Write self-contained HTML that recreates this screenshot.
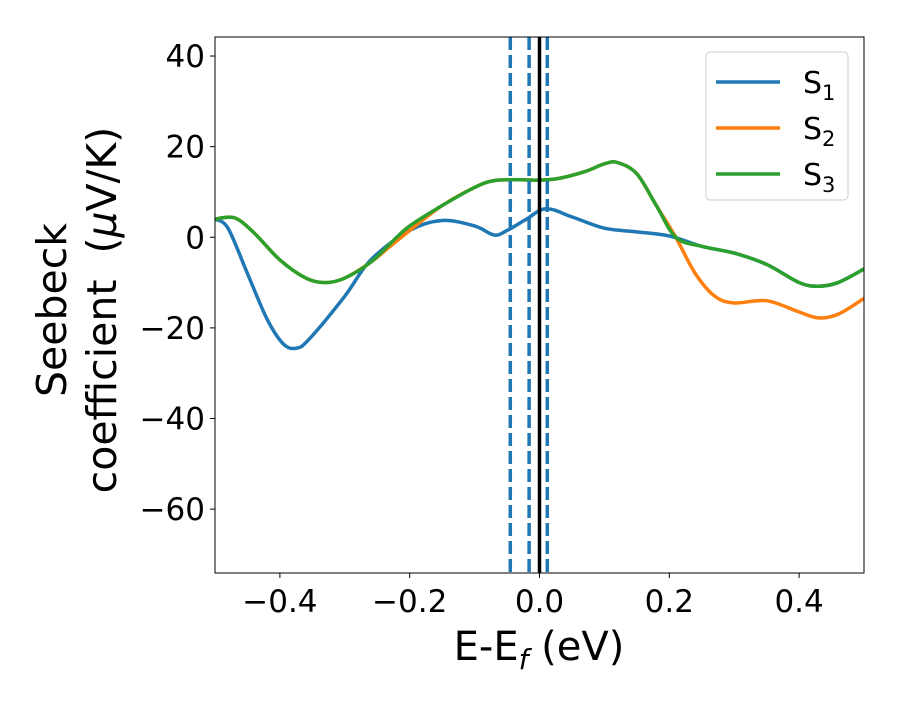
<!DOCTYPE html>
<html><head><meta charset="utf-8"><style>
body{margin:0;background:#fff;}
svg text{font-family:"DejaVu Sans","Liberation Sans",sans-serif;fill:#000;}
</style></head><body>
<svg id="chart" width="900" height="700" xmlns="http://www.w3.org/2000/svg"></svg>
<script>
const xS1=[-0.5,-0.48,-0.45,-0.42,-0.395,-0.375,-0.355,-0.3,-0.26,-0.2,-0.15,-0.1,-0.07,-0.05,-0.02,0.01,0.05,0.1,0.15,0.2,0.25,0.3,0.35,0.4,0.43,0.46,0.5];
const yS1=[4,2,-8,-18,-23.5,-24.5,-22.5,-13,-5,1.5,3.7,2.5,0.5,1.5,4,6.3,4.5,2,1.2,0.3,-2,-3.5,-6,-10,-10.8,-10,-7];
const xS2=[-0.5,-0.47,-0.44,-0.4,-0.36,-0.33,-0.3,-0.26,-0.23,-0.2,-0.15,-0.1,-0.07,-0.03,0,0.03,0.07,0.1,0.12,0.15,0.18,0.21,0.24,0.27,0.3,0.35,0.4,0.43,0.46,0.5];
const yS2=[4,4.3,1,-5,-9,-10,-9,-5.5,-2,1.5,7,11,12.5,12.7,12.6,13,14.5,16.2,16.5,14,7,0,-8,-13,-14.5,-14,-16.5,-17.8,-17,-13.5];
const xS3=[-0.5,-0.47,-0.44,-0.4,-0.36,-0.33,-0.3,-0.26,-0.22,-0.2,-0.15,-0.1,-0.07,-0.03,0,0.03,0.07,0.1,0.12,0.15,0.18,0.21,0.25,0.3,0.35,0.4,0.43,0.46,0.5];
const yS3=[4,4.3,1,-5,-9,-10,-9,-5.5,0,2.5,7,11,12.5,12.7,12.6,13,14.5,16.2,16.5,14,7,0,-2,-3.5,-6,-10,-10.8,-10,-7];
const xTicks=[-0.4,-0.2,0.0,0.2,0.4];
const xTickLabels=["−0.4","−0.2","0.0","0.2","0.4"];
const yTicks=[40,20,0,-20,-40,-60];
const yTickLabels=["40","20","0","−20","−40","−60"];
const dashedLines=[-0.045,-0.016,0.012];
const fermiLine=[0];

const L=215,R=864,T=37,B=573,xmin=-0.5,xmax=0.5,ymin=-74.1,ymax=44.2;
const sx=v=>L+(v-xmin)/(xmax-xmin)*(R-L);
const sy=v=>B-(v-ymin)/(ymax-ymin)*(B-T);
const svg=document.getElementById('chart');
const NS="http://www.w3.org/2000/svg";
function mk(tag,attrs,parent){const e=document.createElementNS(NS,tag);for(const k in attrs)e.setAttribute(k,attrs[k]);(parent||svg).appendChild(e);return e;}
function smooth(xs,ys){const p=xs.map((x,i)=>[sx(x),sy(ys[i])]);let d=`M${p[0][0]},${p[0][1]}`;
for(let i=0;i<p.length-1;i++){const p0=p[i-1]||p[i],p1=p[i],p2=p[i+1],p3=p[i+2]||p2;
d+=` C${p1[0]+(p2[0]-p0[0])/6},${p1[1]+(p2[1]-p0[1])/6} ${p2[0]-(p3[0]-p1[0])/6},${p2[1]-(p3[1]-p1[1])/6} ${p2[0]},${p2[1]}`;}return d;}

const cp=mk('clipPath',{id:'clip'});
mk('rect',{x:L,y:T,width:R-L,height:B-T},cp);

const plot=mk('g',{'clip-path':'url(#clip)'});


const series=[[xS1,yS1,'#1f77b4','series-s1'],[xS2,yS2,'#ff7f0e','series-s2'],[xS3,yS3,'#2ca02c','series-s3']];
series.forEach(s=>{const p=mk('path',{d:smooth(s[0],s[1]),fill:'none',stroke:s[2],'stroke-width':3.5},plot);

});
dashedLines.forEach((v,i)=>{const l=mk('line',{x1:sx(v),x2:sx(v),y1:T,y2:B,stroke:'#1f77b4','stroke-width':3.5,'stroke-dasharray':'13,5'},plot);

});
fermiLine.forEach(v=>{const l=mk('line',{x1:sx(v),x2:sx(v),y1:T,y2:B,stroke:'#000','stroke-width':3.5},plot);

});

const frame=mk('rect',{x:L,y:T,width:R-L,height:B-T,fill:'none',stroke:'#000','stroke-width':1});



xTicks.forEach((v,i)=>{mk('line',{x1:sx(v),x2:sx(v),y1:B,y2:B+5,stroke:'#000'});
const t=mk('text',{x:sx(v),y:B+39,'text-anchor':'middle','font-size':31});t.textContent=xTickLabels[i];

});
yTicks.forEach((v,i)=>{mk('line',{x1:L-5,x2:L,y1:sy(v),y2:sy(v),stroke:'#000'});
const t=mk('text',{x:L-10,y:sy(v)+11,'text-anchor':'end','font-size':31});t.textContent=yTickLabels[i];

});
</script>
<svg style="position:absolute;left:0;top:0" width="900" height="700" xmlns="http://www.w3.org/2000/svg">
<text x="539" y="660" text-anchor="middle" font-size="40">E-E<tspan font-size="28" dy="9" font-style="italic">f</tspan><tspan dy="-9"> (eV)</tspan></text>
<g transform="translate(66,310) rotate(-90)">
<text x="0" y="0" text-anchor="middle" font-size="41">Seebeck</text>
<text x="0" y="50" text-anchor="middle" font-size="41" xml:space="preserve">coefficient  (<tspan font-style="italic">μ</tspan>V/K)</text>
</g>
<g>
<rect x="706" y="52" width="142" height="148" rx="4" fill="#fff" stroke="#ccc"/>
<line x1="716" x2="780" y1="82" y2="82" stroke="#1f77b4" stroke-width="3.5"/>
<text x="803" y="93" font-size="30">S<tspan font-size="21" dy="7">1</tspan></text>
<line x1="716" x2="780" y1="128" y2="128" stroke="#ff7f0e" stroke-width="3.5"/>
<text x="803" y="139" font-size="30">S<tspan font-size="21" dy="7">2</tspan></text>
<line x1="716" x2="780" y1="174" y2="174" stroke="#2ca02c" stroke-width="3.5"/>
<text x="803" y="185" font-size="30">S<tspan font-size="21" dy="7">3</tspan></text>
</g>
</svg>
</body></html>
